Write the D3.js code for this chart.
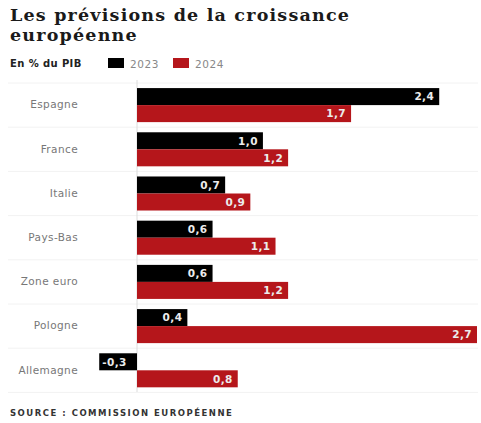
<!DOCTYPE html>
<html>
<head>
<meta charset="utf-8">
<script src="https://cdn.jsdelivr.net/npm/d3@7"></script>
<style>
  html, body { margin: 0; padding: 0; background: #fff; }
  svg { display: block; }
</style>
</head>
<body>
<svg id="chart" width="481" height="423"></svg>
<script>
// Growth forecasts, % of GDP
const categories = ["Espagne", "France", "Italie", "Pays-Bas", "Zone euro", "Pologne", "Allemagne"];
const years = ["2023", "2024"];
const values2023 = [2.4, 1.0, 0.7, 0.6, 0.6, 0.4, -0.3];
const values2024 = [1.7, 1.2, 0.9, 1.1, 1.2, 2.7, 0.8];
const colors = ["#000000", "#b5161b"];

const fmt = v => d3.format(".1f")(v).replace(".", ",").replace("−", "-");
const sans = "'DejaVu Sans', Verdana, sans-serif";

const svg = d3.select("#chart");

// Title, two lines
const titleLines = ["Les prévisions de la croissance", "européenne"];
svg.append("g").selectAll("text").data(titleLines).join("text")
  .attr("x", 10)
  .attr("y", (d, i) => 21 + i * 19.5)
  .attr("font-family", "'DejaVu Serif', serif")
  .attr("font-weight", "bold")
  .attr("font-size", 17.5)
  .attr("letter-spacing", 1.2)
  .attr("fill", "#1a1a1a")
  .text(d => d);

// Unit + legend
svg.append("text")
  .attr("x", 10).attr("y", 67)
  .attr("font-family", sans)
  .attr("font-weight", "bold")
  .attr("font-size", 10)
  .attr("letter-spacing", 0.4)
  .attr("fill", "#222")
  .text("En % du PIB");

const legend = svg.append("g");
const legendX = [108, 173];
years.forEach((y, i) => {
  legend.append("rect")
    .attr("x", legendX[i]).attr("y", 58)
    .attr("width", 16).attr("height", 10)
    .attr("fill", colors[i]);
  legend.append("text")
    .attr("x", legendX[i] + 22).attr("y", 67.5)
    .attr("font-family", sans)
    .attr("font-size", 10.5)
    .attr("letter-spacing", 0.6)
    .attr("fill", "#888")
    .text(y);
});

// Scales
const x = d3.scaleLinear().domain([0, 2.7]).range([137, 477]);
const yBand = d3.scaleBand().domain(categories).range([83, 392.4]).paddingInner(0.23).paddingOuter(0.115);
const ySub = d3.scaleBand().domain(years).range([0, yBand.bandwidth()]);

// Row separators
const step = yBand.step();
const seps = d3.range(categories.length + 1).map(i => 83 + i * step);
svg.append("g").selectAll("line").data(seps).join("line")
  .attr("x1", 8).attr("x2", 478)
  .attr("y1", d => d).attr("y2", d => d)
  .attr("stroke", "#f2f2f2").attr("stroke-width", 1);

// Category axis
const yAxis = d3.axisLeft(yBand).tickSize(0).tickPadding(0);
const axisG = svg.append("g")
  .attr("transform", "translate(78,0)")
  .call(yAxis);
axisG.select(".domain").remove();
axisG.selectAll("text")
  .attr("font-family", sans)
  .attr("font-size", 10.5)
  .attr("letter-spacing", 0.4)
  .attr("fill", "#777");

// Zero line
svg.append("line")
  .attr("x1", x(0)).attr("x2", x(0))
  .attr("y1", 80).attr("y2", 392)
  .attr("stroke", "#dcdcdc").attr("stroke-width", 1);

// Bars
const data = [];
categories.forEach((c, i) => {
  data.push({ cat: c, year: years[0], value: values2023[i] });
  data.push({ cat: c, year: years[1], value: values2024[i] });
});

const bars = svg.append("g");
bars.selectAll("rect").data(data).join("rect")
  .attr("x", d => x(Math.min(0, d.value)))
  .attr("width", d => Math.abs(x(d.value) - x(0)))
  .attr("y", d => yBand(d.cat) + ySub(d.year))
  .attr("height", ySub.bandwidth())
  .attr("fill", d => colors[years.indexOf(d.year)]);

// Value labels inside bar ends
bars.selectAll("text").data(data).join("text")
  .attr("x", d => d.value >= 0 ? x(d.value) - 5 : x(d.value) + 3)
  .attr("text-anchor", d => d.value >= 0 ? "end" : "start")
  .attr("y", d => yBand(d.cat) + ySub(d.year) + ySub.bandwidth() / 2)
  .attr("dy", "0.36em")
  .attr("font-family", sans)
  .attr("font-weight", "bold")
  .attr("font-size", 10.5)
  .attr("letter-spacing", 0.4)
  .attr("fill", "#ececec")
  .text(d => fmt(d.value));

// Source
svg.append("text")
  .attr("x", 10).attr("y", 416)
  .attr("font-family", sans)
  .attr("font-weight", "bold")
  .attr("font-size", 8.5)
  .attr("letter-spacing", 1.5)
  .attr("fill", "#333")
  .text("SOURCE : COMMISSION EUROPÉENNE");
</script>
</body>
</html>
